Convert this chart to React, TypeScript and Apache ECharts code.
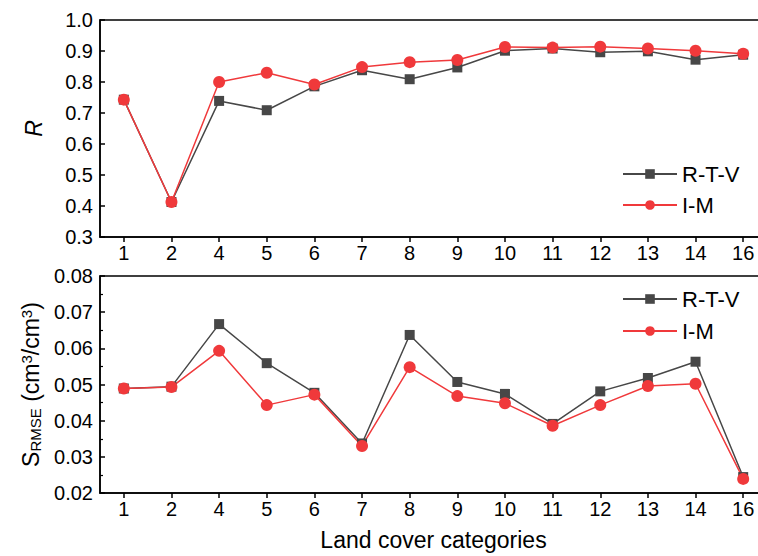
import React, { useEffect, useRef } from "react";
import * as echarts from "echarts";

const categories = ["1", "2", "4", "5", "6", "7", "8", "9", "10", "11", "12", "13", "14", "16"];
const rRTV = [0.743, 0.413, 0.739, 0.709, 0.786, 0.838, 0.809, 0.847, 0.901, 0.908, 0.896, 0.899, 0.872, 0.888];
const rIM = [0.743, 0.413, 0.800, 0.830, 0.792, 0.848, 0.864, 0.871, 0.913, 0.911, 0.914, 0.908, 0.901, 0.891];
const sRTV = [0.0489, 0.0494, 0.0667, 0.0559, 0.0477, 0.0337, 0.0637, 0.0507, 0.0474, 0.0391, 0.0481, 0.0518, 0.0563, 0.0244];
const sIM = [0.0489, 0.0493, 0.0593, 0.0443, 0.0472, 0.0330, 0.0548, 0.0468, 0.0448, 0.0386, 0.0443, 0.0496, 0.0502, 0.0239];
const rTicks = { min: 0.3, max: 1.0, interval: 0.1 };
const sTicks = { min: 0.02, max: 0.08, interval: 0.01 };

const FONT = 'Arial, "Liberation Sans", sans-serif';
const GRAY = "#474747";
const RED = "#f0393b";

export default function App() {
  const ref = useRef<HTMLDivElement>(null);
  useEffect(() => {
    document.body.style.margin = "0";
    document.body.style.overflow = "hidden";
    const chart = echarts.init(ref.current!, null, { renderer: "svg" });
    const axisLine = { show: true, lineStyle: { color: "#000", width: 1.5 } };
    const xAxisBase = (gridIndex: number, name: string) => ({
      type: "category" as const,
      gridIndex,
      data: categories,
      boundaryGap: true,
      axisLine,
      axisTick: { show: true, inside: false, length: 5, alignWithLabel: true, lineStyle: { color: "#000", width: 1.5 } },
      axisLabel: { fontSize: 20, color: "#000", fontFamily: FONT, margin: 6, interval: 0 },
      name,
      nameLocation: "middle" as const,
      nameGap: 35,
      nameTextStyle: { fontSize: 23, color: "#000", fontFamily: FONT },
      splitLine: { show: false },
    });
    const lineSeries = (name: string, data: number[], idx: number, color: string, symbol: string, size: number) => ({
      name,
      type: "line" as const,
      xAxisIndex: idx,
      yAxisIndex: idx,
      data,
      symbol,
      symbolSize: size,
      lineStyle: { color, width: 1.5 },
      itemStyle: { color },
    });
    const legendBase = (top: number, gap: number) => ({
      top,
      left: 622,
      orient: "vertical" as const,
      padding: 0,
      itemWidth: 54,
      itemHeight: 12,
      itemGap: gap,
      data: ["R-T-V", "I-M"],
      textStyle: { fontSize: 22, color: "#000", fontFamily: FONT },
    });
    const gridBase = (top: number) => ({
      left: 100,
      top,
      width: 667,
      height: 217,
      outerBoundsMode: "none",
      containLabel: false,
      show: true,
      borderColor: "#000",
      borderWidth: 1.5,
      backgroundColor: "transparent",
    });
    chart.setOption({
      animation: false,
      backgroundColor: "#fff",
      grid: [gridBase(20), gridBase(276)],
      xAxis: [xAxisBase(0, ""), xAxisBase(1, "Land cover categories")],
      yAxis: [
        {
          type: "value",
          gridIndex: 0,
          ...rTicks,
          axisLine,
          axisTick: { show: true, inside: true, length: 5, lineStyle: { color: "#000", width: 1.5 } },
          axisLabel: { fontSize: 20, color: "#000", fontFamily: FONT, margin: 7, formatter: (v: number) => v.toFixed(1) },
          splitLine: { show: false },
          name: "R",
          nameLocation: "middle",
          nameRotate: 90,
          nameGap: 55,
          nameTextStyle: { fontSize: 23, color: "#000", fontFamily: FONT, fontStyle: "italic" },
        },
        {
          type: "value",
          gridIndex: 1,
          ...sTicks,
          axisLine,
          axisTick: { show: true, inside: true, length: 5, lineStyle: { color: "#000", width: 1.5 } },
          minorTick: { show: true, splitNumber: 2, length: 3, lineStyle: { color: "#000", width: 1.2 } },
          axisLabel: { fontSize: 20, color: "#000", fontFamily: FONT, margin: 7, formatter: (v: number) => v.toFixed(2) },
          splitLine: { show: false },
          name: "{n|S}{sub|RMSE}{n| (cm}{sup|3}{n|/cm}{sup|3}{n|)}",
          nameLocation: "middle",
          nameRotate: 90,
          nameGap: 53,
          nameTextStyle: {
            fontSize: 23,
            color: "#000",
            fontFamily: FONT,
            rich: {
              n: { fontSize: 23, color: "#000", fontFamily: FONT },
              sub: { fontSize: 15, color: "#000", fontFamily: FONT, padding: [9, 0, 0, 0] },
              sup: { fontSize: 15, color: "#000", fontFamily: FONT, padding: [0, 0, 9, 0] },
            },
          },
        },
      ],
      legend: [legendBase(163, 9), legendBase(288, 10)],
      series: [
        lineSeries("R-T-V", rRTV, 0, GRAY, "rect", 10),
        lineSeries("I-M", rIM, 0, RED, "circle", 12),
        lineSeries("R-T-V", sRTV, 1, GRAY, "rect", 10),
        lineSeries("I-M", sIM, 1, RED, "circle", 12),
      ],
    });
    return () => chart.dispose();
  }, []);
  return <div ref={ref} style={{ width: 758, height: 556 }} />;
}
